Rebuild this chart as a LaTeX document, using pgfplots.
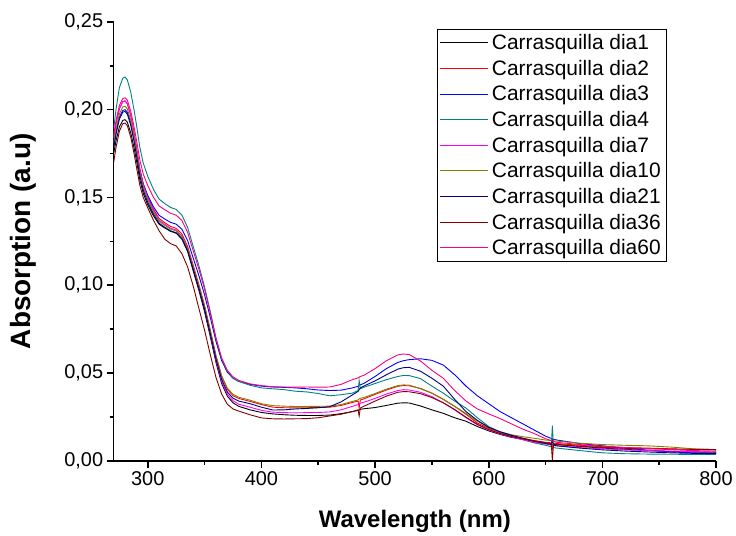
\documentclass[border=0pt]{standalone}
\usepackage{pgfplots}
\pgfplotsset{compat=1.18}
\usepackage{pgfplotstable}
\usepackage{fontspec}
\setmainfont{Liberation Sans}
\definecolor{cblack}{RGB}{0,0,0}
\definecolor{cred}{RGB}{255,0,0}
\definecolor{cblue}{RGB}{0,0,255}
\definecolor{cteal}{RGB}{0,128,128}
\definecolor{cmag}{RGB}{255,0,255}
\definecolor{colive}{RGB}{128,128,0}
\definecolor{cnavy}{RGB}{0,0,128}
\definecolor{cwine}{RGB}{128,0,0}
\definecolor{cpink}{RGB}{255,0,128}

\pgfplotstableread{
wl d1 d2 d3 d4 d7 d10 d21 d36 d60
270 .1750 .1840 .1800 .1890 .1840 .1810 .1780 .1700 .1860
272 .1821 .1918 .1874 .2000 .1918 .1888 .1858 .1783 .1937
275 .1902 .2006 .1958 .2125 .2006 .1976 .1946 .1877 .2024
278 .1939 .2046 .1996 .2180 .2046 .2016 .1986 .1920 .2064
280 .1943 .2050 .2000 .2186 .2050 .2020 .1990 .1924 .2068
282 .1929 .2034 .1986 .2170 .2034 .2005 .1975 .1909 .2054
285 .1869 .1967 .1926 .2100 .1966 .1939 .1911 .1844 .1992
288 .1780 .1867 .1836 .1996 .1864 .1841 .1816 .1748 .1900
290 .1712 .1790 .1767 .1916 .1787 .1766 .1743 .1674 .1829
293 .1601 .1665 .1655 .1786 .1660 .1643 .1624 .1570 .1714
296 .1524 .1579 .1577 .1696 .1572 .1559 .1542 .1500 .1634
300 .1458 .1505 .1511 .1620 .1498 .1487 .1472 .1440 .1567
305 .1395 .1434 .1447 .1546 .1426 .1417 .1405 .1370 .1501
310 .1347 .1380 .1398 .1490 .1371 .1364 .1353 .1310 .1451
315 .1326 .1356 .1377 .1465 .1347 .1341 .1330 .1262 .1430
320 .1307 .1335 .1358 .1443 .1325 .1320 .1310 .1237 .1410
325 .1296 .1324 .1348 .1432 .1314 .1309 .1299 .1224 .1399
330 .1263 .1292 .1319 .1400 .1281 .1278 .1267 .1180 .1369
335 .1193 .1222 .1255 .1330 .1210 .1210 .1198 .1105 .1302
340 .1081 .1113 .1154 .1220 .1098 .1103 .1090 .0995 .1196
345 .0970 .1003 .1054 .1110 .0986 .0995 .0981 .0867 .1091
350 .0848 .0883 .0944 .0990 .0864 .0878 .0862 .0743 .0976
355 .0707 .0744 .0817 .0850 .0722 .0742 .0724 .0604 .0842
360 .0560 .0597 .0680 .0700 .0572 .0600 .0580 .0475 .0698
365 .0440 .0480 .0570 .0582 .0452 .0484 .0463 .0380 .0585
370 .0368 .0408 .0504 .0510 .0380 .0414 .0392 .0322 .0515
375 .0330 .0370 .0470 .0472 .0342 .0378 .0356 .0295 .0478
380 .0310 .0355 .0452 .0452 .0322 .0362 .0340 .0283 .0458
390 .0290 .0338 .0435 .0430 .0305 .0345 .0325 .0262 .0438
400 .0275 .0320 .0425 .0415 .0287 .0325 .0305 .0244 .0428
410 .0267 .0305 .0420 .0410 .0277 .0314 .0289 .0239 .0422
420 .0262 .0302 .0418 .0405 .0274 .0311 .0290 .0238 .0420
430 .0259 .0301 .0415 .0396 .0273 .0309 .0295 .0239 .0419
440 .0258 .0302 .0410 .0392 .0274 .0309 .0298 .0240 .0420
450 .0258 .0303 .0403 .0383 .0275 .0310 .0302 .0245 .0419
460 .0260 .0305 .0400 .0370 .0278 .0311 .0308 .0255 .0420
470 .0268 .0315 .0402 .0376 .0290 .0320 .0335 .0265 .0435
480 .0280 .0332 .0415 .0385 .0310 .0338 .0375 .0280 .0462
485 .0287 .0340 .0424 .0400 .0320 .0346 .0395 .0290 .0472
486 .0290 .0300 .0428 .0456 .0324 .0352 .0405 .0255 .0476
487 .0293 .0346 .0433 .0410 .0328 .0356 .0415 .0300 .0480
490 .0296 .0352 .0440 .0418 .0333 .0360 .0425 .0310 .0486
500 .0303 .0378 .0480 .0440 .0355 .0383 .0455 .0340 .0525
510 .0315 .0403 .0525 .0462 .0380 .0408 .0490 .0368 .0570
520 .0328 .0424 .0560 .0480 .0400 .0428 .0522 .0390 .0603
525 .0330 .0428 .0570 .0486 .0405 .0432 .0530 .0394 .0608
530 .0329 .0427 .0576 .0485 .0403 .0431 .0532 .0393 .0605
540 .0312 .0412 .0581 .0468 .0390 .0410 .0510 .0382 .0568
550 .0290 .0385 .0572 .0425 .0365 .0385 .0470 .0360 .0515
560 .0270 .0350 .0545 .0385 .0330 .0350 .0425 .0330 .0470
570 .0245 .0310 .0490 .0340 .0290 .0310 .0350 .0292 .0400
580 .0225 .0265 .0425 .0300 .0245 .0270 .0280 .0248 .0340
590 .0195 .0215 .0370 .0245 .0205 .0225 .0230 .0208 .0295
600 .0170 .0185 .0325 .0195 .0175 .0190 .0190 .0178 .0267
610 .0150 .0160 .0280 .0163 .0152 .0165 .0165 .0155 .0240
620 .0133 .0142 .0245 .0140 .0135 .0148 .0145 .0138 .0210
630 .0122 .0128 .0210 .0120 .0120 .0137 .0128 .0125 .0180
640 .0110 .0115 .0175 .0102 .0105 .0128 .0112 .0113 .0155
650 .0100 .0105 .0140 .0088 .0095 .0118 .0098 .0103 .0125
655 .0096 .0102 .0127 .0080 .0090 .0115 .0093 .0098 .0115
656 .0094 .0070 .0125 .0200 .0088 .0114 .0115 .0003 .0112
657 .0094 .0100 .0122 .0075 .0088 .0113 .0088 .0095 .0110
660 .0092 .0098 .0118 .0072 .0085 .0112 .0085 .0093 .0105
680 .0082 .0088 .0098 .0058 .0075 .0100 .0072 .0082 .0092
700 .0072 .0080 .0085 .0045 .0068 .0092 .0062 .0076 .0083
720 .0065 .0075 .0072 .0040 .0062 .0088 .0055 .0071 .0075
740 .0058 .0072 .0060 .0038 .0058 .0085 .0050 .0068 .0070
760 .0053 .0068 .0050 .0037 .0055 .0078 .0045 .0066 .0063
780 .0050 .0065 .0045 .0036 .0052 .0068 .0042 .0065 .0058
800 .0048 .0064 .0042 .0036 .0050 .0060 .0040 .0064 .0055
}\spectra

\begin{document}
\begin{tikzpicture}
\begin{axis}[
  scale only axis, width=604pt, height=440pt,
  xmin=270, xmax=800, ymin=0, ymax=0.25,
  axis x line*=bottom, axis y line*=left,
  axis line style={line width=1.6pt},
  xtick={300,400,500,600,700,800},
  ytick={0,0.05,0.1,0.15,0.2,0.25},
  minor x tick num=1, minor y tick num=1,
  tick align=outside,
  major tick length=7pt, minor tick length=4pt,
  every tick/.style={black, line width=1.6pt},
  scaled y ticks=false,
  tick label style={font=\fontsize{20}{23}\selectfont},
  /pgf/number format/assume math mode=true,
  yticklabel style={/pgf/number format/.cd, fixed, fixed zerofill, precision=2, use comma},
  xticklabel style={/pgf/number format/.cd, fixed, 1000 sep={}},
  xlabel={Wavelength (nm)}, ylabel={Absorption (a.u)},
  xlabel style={font=\fontsize{24}{28}\selectfont\bfseries},
  ylabel style={font=\fontsize{28}{32}\selectfont\bfseries},
  xlabel shift=18pt, ylabel shift=21pt,
  legend cell align=left,
  legend image code/.code={\draw[#1, line width=0.9pt] (0pt,0pt) -- (48pt,0pt);},
  legend style={at={(0.5364,0.984)}, anchor=north west, draw=black, line width=0.8pt,
    fill=white, font=\fontsize{21}{25}\selectfont, inner xsep=2pt, inner ysep=3pt,
    row sep=5pt, nodes={inner xsep=4pt}},
  every axis plot/.append style={line width=0.9pt},
]
\addplot[cblack] table[x=wl,y=d1] {\spectra};
\addlegendentry{Carrasquilla dia1}
\addplot[cred] table[x=wl,y=d2] {\spectra};
\addlegendentry{Carrasquilla dia2}
\addplot[cblue] table[x=wl,y=d3] {\spectra};
\addlegendentry{Carrasquilla dia3}
\addplot[cteal] table[x=wl,y=d4] {\spectra};
\addlegendentry{Carrasquilla dia4}
\addplot[cmag] table[x=wl,y=d7] {\spectra};
\addlegendentry{Carrasquilla dia7}
\addplot[colive] table[x=wl,y=d10] {\spectra};
\addlegendentry{Carrasquilla dia10}
\addplot[cnavy] table[x=wl,y=d21] {\spectra};
\addlegendentry{Carrasquilla dia21}
\addplot[cwine] table[x=wl,y=d36] {\spectra};
\addlegendentry{Carrasquilla dia36}
\addplot[cpink] table[x=wl,y=d60] {\spectra};
\addlegendentry{Carrasquilla dia60}
\end{axis}
\path (current axis.south west) ++(-114pt,-73pt);
\path (current axis.north east) ++(18pt,22pt);
\end{tikzpicture}
\end{document}
